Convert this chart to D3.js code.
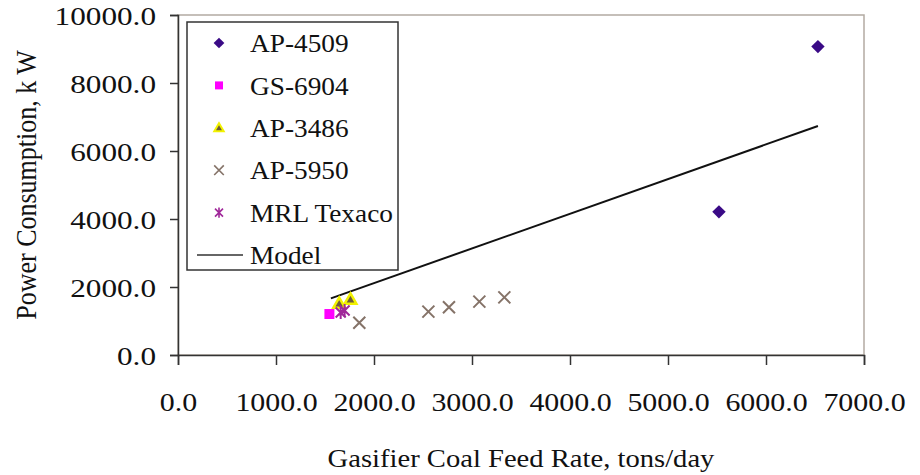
<!DOCTYPE html>
<html>
<head>
<meta charset="utf-8">
<script src="https://cdn.jsdelivr.net/npm/d3@7"></script>
<style>
  body { margin: 0; background: #fff; }
  text { font-family: "Liberation Serif", "Times New Roman", serif; fill: #111; }
</style>
</head>
<body>
<svg id="chart" width="920" height="475"></svg>
<script>
// points: [feed rate tons/day, power kW]
const ap4509    = [[5520, 4210], [6530, 9070]];
const gs6904    = [[1545, 1205]];
const ap3486    = [[1645, 1520], [1760, 1640]];
const ap5950    = [[1850, 950], [2555, 1275], [2765, 1405], [3075, 1570], [3330, 1695]];
const mrlTexaco = [[1660, 1250], [1700, 1310]];
const model     = [[1560, 1665], [6530, 6735]];

const xTicks = [0, 1000, 2000, 3000, 4000, 5000, 6000, 7000];
const yTicks = [0, 2000, 4000, 6000, 8000, 10000];
const legendNames = ['AP-4509', 'GS-6904', 'AP-3486', 'AP-5950', 'MRL Texaco', 'Model'];

const svg = d3.select('#chart');
const margin = {left: 178, right: 56, top: 15, bottom: 120};
const W = 920, H = 475;

const x = d3.scaleLinear().domain([0, 7000]).range([margin.left, W - margin.right]);
const y = d3.scaleLinear().domain([0, 10000]).range([H - margin.bottom, margin.top]);

// the source picture is a little wide in its lettering, so stretch text to suit
function stretch(sel, k) {
  sel.each(function() {
    const len = this.getComputedTextLength();
    d3.select(this).attr('textLength', len * k).attr('lengthAdjust', 'spacingAndGlyphs');
  });
}

// plot frame (top/right in light grey-brown like the original)
svg.append('rect')
  .attr('x', x(0)).attr('y', y(10000))
  .attr('width', x(7000) - x(0)).attr('height', y(0) - y(10000))
  .attr('fill', 'none').attr('stroke', '#b3aaa2').attr('stroke-width', 1.5);

const fmt = d => d3.format('.1f')(d);

const xAxis = svg.append('g')
  .attr('transform', `translate(0,${y(0)})`)
  .call(d3.axisBottom(x).tickValues(xTicks).tickFormat(fmt).tickSize(10).tickPadding(28));
const yAxis = svg.append('g')
  .attr('transform', `translate(${x(0)},0)`)
  .call(d3.axisLeft(y).tickValues(yTicks).tickFormat(fmt).tickSize(8).tickPadding(14));

[xAxis, yAxis].forEach(a => {
  a.select('.domain').attr('stroke', '#333').attr('stroke-width', 1.5);
  a.selectAll('.tick line').attr('stroke', '#333').attr('stroke-width', 1.5);
  a.selectAll('.tick text')
    .style('font-family', '"Liberation Serif", serif')
    .style('font-size', '26px').attr('fill', '#111');
});
yAxis.selectAll('.tick text').attr('dy', '0.35em');
stretch(xAxis.selectAll('.tick text'), 1.15);
stretch(yAxis.selectAll('.tick text'), 1.2);

// axis titles
svg.append('text')
  .attr('x', (x(0) + x(7000)) / 2).attr('y', 467)
  .attr('text-anchor', 'middle').style('font-size', '26px')
  .text('Gasifier Coal Feed Rate, tons/day')
  .call(stretch, 1.1);
svg.append('text')
  .attr('transform', `translate(36,${(y(0) + y(10000)) / 2}) scale(1.12,1) rotate(-90)`)
  .attr('text-anchor', 'middle').style('font-size', '26px')
  .text('Power Consumption, k W');

// marker drawers
const diamond = d3.symbol().type(d3.symbolSquare).size(90);
const square  = d3.symbol().type(d3.symbolSquare).size(100);
const tri     = d3.symbol().type(d3.symbolTriangle).size(60);
const crossPath = r => `M${-r},${-r}L${r},${r}M${-r},${r}L${r},${-r}`;
const starPath  = r => crossPath(r) + `M0,${-r * 1.3}L0,${r * 1.3}`;

const markers = {
  'AP-4509': g => g.append('path').attr('d', diamond).attr('transform', 'rotate(45)').attr('fill', '#3a0a86'),
  'GS-6904': g => g.append('path').attr('d', square).attr('fill', '#ff00ff'),
  'AP-3486': g => g.append('path').attr('d', tri).attr('transform', 'translate(0,1)')
                   .attr('fill', '#6e5c3a').attr('stroke', '#f2f200').attr('stroke-width', 2.5),
  'AP-5950': g => g.append('path').attr('d', crossPath(6)).attr('stroke', '#857368').attr('stroke-width', 2).attr('fill', 'none'),
  'MRL Texaco': g => g.append('path').attr('d', starPath(5)).attr('stroke', '#a0289a').attr('stroke-width', 2).attr('fill', 'none')
};

const series = [
  {name: 'GS-6904', data: gs6904},
  {name: 'AP-5950', data: ap5950},
  {name: 'AP-3486', data: ap3486},
  {name: 'MRL Texaco', data: mrlTexaco},
  {name: 'AP-4509', data: ap4509}
];

// model line
svg.append('path')
  .datum(model)
  .attr('d', d3.line().x(d => x(d[0])).y(d => y(d[1])))
  .attr('stroke', '#111').attr('stroke-width', 2).attr('fill', 'none');

series.forEach(s => {
  svg.append('g').selectAll('g')
    .data(s.data)
    .join('g')
      .attr('transform', d => `translate(${x(d[0])},${y(d[1])})`)
      .each(function() { markers[s.name](d3.select(this)); });
});

// legend
const lg = svg.append('g').attr('transform', 'translate(187,22)');
lg.append('rect')
  .attr('width', 211).attr('height', 248)
  .attr('fill', '#fff').attr('stroke', '#333').attr('stroke-width', 1.5);

legendNames.forEach((name, i) => {
  const row = lg.append('g').attr('transform', `translate(0,${21 + i * 42.4})`);
  const m = row.append('g').attr('transform', 'translate(32,0)');
  if (name === 'Model') {
    row.append('line').attr('x1', 10).attr('x2', 56).attr('y1', 0).attr('y2', 0)
      .attr('stroke', '#333').attr('stroke-width', 1.5);
  } else {
    markers[name](m);
    m.attr('transform', 'translate(32,0) scale(0.8)');
  }
  row.append('text').attr('x', 63).attr('y', 0).attr('dy', '0.35em')
    .style('font-size', '26px').text(name)
    .call(stretch, 1.05);
});
</script>
</body>
</html>
